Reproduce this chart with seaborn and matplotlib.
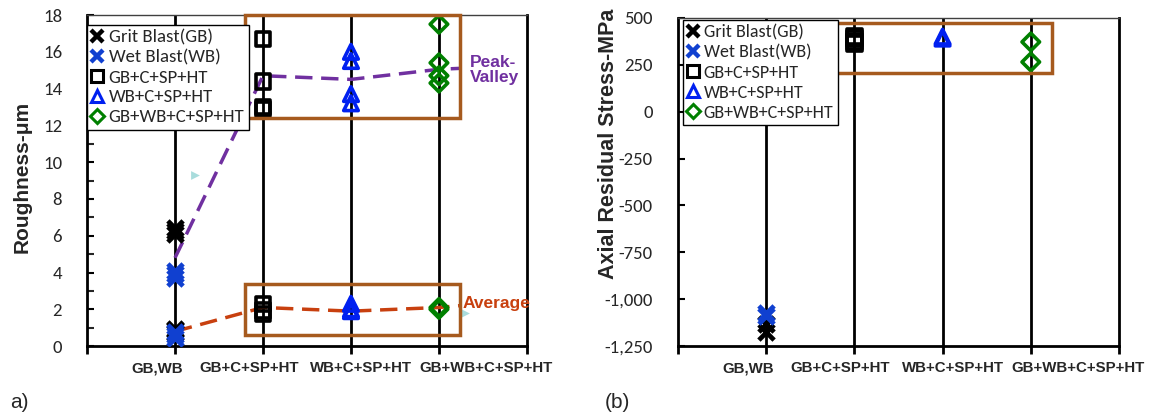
import matplotlib
matplotlib.use("Agg")
import matplotlib.pyplot as plt
from matplotlib.lines import Line2D
from matplotlib.patches import Rectangle
from matplotlib.transforms import ScaledTranslation
import seaborn as sns
import pandas as pd
import numpy as np

# categories on the x axis (positions 1..4)
categories = ["GB,WB", "GB+C+SP+HT", "WB+C+SP+HT", "GB+WB+C+SP+HT"]
series_names = ["Grit Blast(GB)", "Wet Blast(WB)", "GB+C+SP+HT", "WB+C+SP+HT", "GB+WB+C+SP+HT"]
series_cat = [1, 1, 2, 3, 4]

# (a) roughness, peak-valley and average readings per series
rough_gb = [6.1, 6.25, 6.4, 0.7, 0.85, 0.95]
rough_wb = [3.7, 3.9, 4.1, 0.45, 0.6, 0.75]
rough_gb_c = [16.7, 14.4, 13.0, 12.9, 2.3, 1.95, 1.75]
rough_wb_c = [16.0, 15.5, 13.7, 13.2, 2.3, 2.0, 1.9]
rough_gbwb_c = [17.5, 15.4, 14.7, 14.3, 2.1, 2.0]

# trend lines in (a)
trend_x = [1, 2, 3, 4, 4.24]
pv_trend = [4.8, 14.7, 14.5, 15.05, 15.1]
avg_trend = [0.8, 2.1, 1.9, 2.1, 2.2]
stray_x = [1.23, 4.3]
stray_y = [9.3, 1.8]

# (b) axial residual stress, MPa
stress_gb = [-1130, -1175]
stress_wb = [-1075, -1090]
stress_gb_c = [400, 390, 375, 365]
stress_wb_c = [400, 390]
stress_gbwb_c = [372, 265]

rough_ticks = list(range(0, 19, 2))
stress_ticks = list(range(-1250, 501, 250))
stress_labels = ["-1,250", "-1,000", "-750", "-500", "-250", "0", "250", "500"]

rough = [rough_gb, rough_wb, rough_gb_c, rough_wb_c, rough_gbwb_c]
stress = [stress_gb, stress_wb, stress_gb_c, stress_wb_c, stress_gbwb_c]

rows = []
for name, cat, vals in zip(series_names, series_cat, rough):
    for v in vals:
        rows.append({"panel": "a", "series": name, "x": cat, "y": v})
for name, cat, vals in zip(series_names, series_cat, stress):
    for v in vals:
        rows.append({"panel": "b", "series": name, "x": cat, "y": v})
df = pd.DataFrame(rows)

sns.set_style("ticks")
plt.rcParams["font.family"] = ["Liberation Sans", "DejaVu Sans"]

styles = {
    "Grit Blast(GB)": dict(marker="x", color="black"),
    "Wet Blast(WB)": dict(marker="x", color="#1040D0"),
    "GB+C+SP+HT": dict(marker="s", color="black"),
    "WB+C+SP+HT": dict(marker="^", color="#0020F0"),
    "GB+WB+C+SP+HT": dict(marker="D", color="#008000"),
}
brown = "#A65A1E"
purple = "#7030A0"
orange = "#C8400F"
tick_font = ["Carlito", "Lato", "DejaVu Sans"]
# the category labels sit a little off their gridlines in the original (pixels)
label_shift = [-18, -14, 10, 47]

fig = plt.figure(figsize=(11.53, 4.17), dpi=100)
ax1 = fig.add_axes([0.0755, 0.170, 0.3815, 0.794])
ax2 = fig.add_axes([0.588, 0.170, 0.3825, 0.787])


def draw_points(ax, data):
    for name in series_names:
        st = styles[name]
        sub = data[data["series"] == name]
        if st["marker"] == "x":
            sns.scatterplot(data=sub, x="x", y="y", ax=ax, marker="x", color=st["color"],
                            s=120, linewidth=3.4, zorder=5, legend=False)
        else:
            sns.scatterplot(data=sub, x="x", y="y", ax=ax, marker=st["marker"],
                            facecolor="none", edgecolor=st["color"],
                            s=110 if st["marker"] != "D" else 80,
                            linewidth=2.6, zorder=5, legend=False)


def frame(ax):
    ax.set_xlim(0, 5)
    ax.set_xticks(range(0, 6))
    ax.set_xticklabels([])
    base = ax.get_xaxis_transform()
    for i, (cat, dx) in enumerate(zip(categories, label_shift)):
        ax.text(i + 1, 0, cat, transform=base + ScaledTranslation(dx / 100, -0.15, fig.dpi_scale_trans),
                ha="center", va="top", fontweight="bold", fontsize=10.8)
    for x in range(1, 5):
        ax.axvline(x, color="black", lw=2, zorder=1)
    ax.tick_params(axis="x", direction="out", length=6, width=2, color="black")
    ax.tick_params(axis="y", direction="in", length=5, width=1.5, color="black", pad=18)
    for s in ["left", "bottom", "right"]:
        ax.spines[s].set_linewidth(2)
        ax.spines[s].set_color("black")
    ax.spines["top"].set_linewidth(1)
    ax.spines["top"].set_color("#404040")
    ax.set_xlabel("")
    for lab in ax.get_yticklabels():
        lab.set_fontfamily(tick_font)
        lab.set_fontsize(13.5)


def legend(ax, anchor, size, spacing):
    handles = []
    for name in series_names:
        st = styles[name]
        if st["marker"] == "x":
            h = Line2D([], [], ls="none", marker="x", color=st["color"], ms=8.5, mew=3.2)
        else:
            h = Line2D([], [], ls="none", marker=st["marker"], mfc="none", mec=st["color"],
                       ms=8.5 if st["marker"] != "D" else 7, mew=2.2)
        handles.append(h)
    leg = ax.legend(handles, series_names, loc="upper left", bbox_to_anchor=anchor,
                    prop={"family": tick_font, "size": size},
                    frameon=True, fancybox=False, edgecolor="black", framealpha=1,
                    handlelength=0.6, handletextpad=0.3, borderpad=0.25, labelspacing=spacing,
                    borderaxespad=0)
    leg.get_frame().set_linewidth(1)
    leg.set_zorder(10)


# ---- (a) roughness
ax1.plot(trend_x, pv_trend, color=purple, lw=2.5, ls=(0, (5, 2.5)), zorder=4)
ax1.plot(trend_x, avg_trend, color=orange, lw=2.5, ls=(0, (5, 2.5)), zorder=4)
draw_points(ax1, df[df["panel"] == "a"])
sns.scatterplot(x=stray_x, y=stray_y, ax=ax1, marker=">", color="#A8DCDC", s=40, linewidth=0, legend=False)
ax1.add_patch(Rectangle((1.795, 12.4), 2.445, 5.6, fill=False, ec=brown, lw=2.5, zorder=6, clip_on=False))
ax1.add_patch(Rectangle((1.795, 0.6), 2.445, 2.8, fill=False, ec=brown, lw=2.5, zorder=6, clip_on=False))
ax1.text(4.35, 15.0, "Peak-\nValley", color=purple, fontweight="bold", fontsize=12.5,
         ha="left", va="center", linespacing=0.95, clip_on=False)
ax1.text(4.27, 2.3, "Average", color=orange, fontweight="bold", fontsize=12.5,
         ha="left", va="center", clip_on=False)
ax1.set_ylim(0, 18)
ax1.set_yticks(rough_ticks)
ax1.set_yticks(range(0, 19), minor=True)
ax1.tick_params(axis="y", which="minor", direction="in", length=5, width=1.5)
ax1.set_ylabel("Roughness-\u03bcm", fontweight="bold", fontsize=15)
ax1.yaxis.set_label_coords(-0.127, 0.51)
frame(ax1)
legend(ax1, (0.0, 0.97), 13.5, 0.2)

# ---- (b) residual stress
draw_points(ax2, df[df["panel"] == "b"])
ax2.add_patch(Rectangle((1.795, 206), 2.445, 267, fill=False, ec=brown, lw=2.5, zorder=6, clip_on=False))
ax2.set_ylim(-1250, 500)
ax2.set_yticks(stress_ticks)
ax2.set_yticklabels(stress_labels)
ax2.set_ylabel("Axial Residual Stress-MPa", fontweight="bold", fontsize=15.5)
ax2.yaxis.set_label_coords(-0.134, 0.615)
frame(ax2)
legend(ax2, (0.011, 0.994), 13, 0.22)

fig.text(10 / 1153, 1 - 402 / 417, "a)", fontsize=15, va="center", ha="left")
fig.text(605 / 1153, 1 - 402 / 417, "(b)", fontsize=15, va="center", ha="left")

fig.savefig("out.png", dpi=100)
